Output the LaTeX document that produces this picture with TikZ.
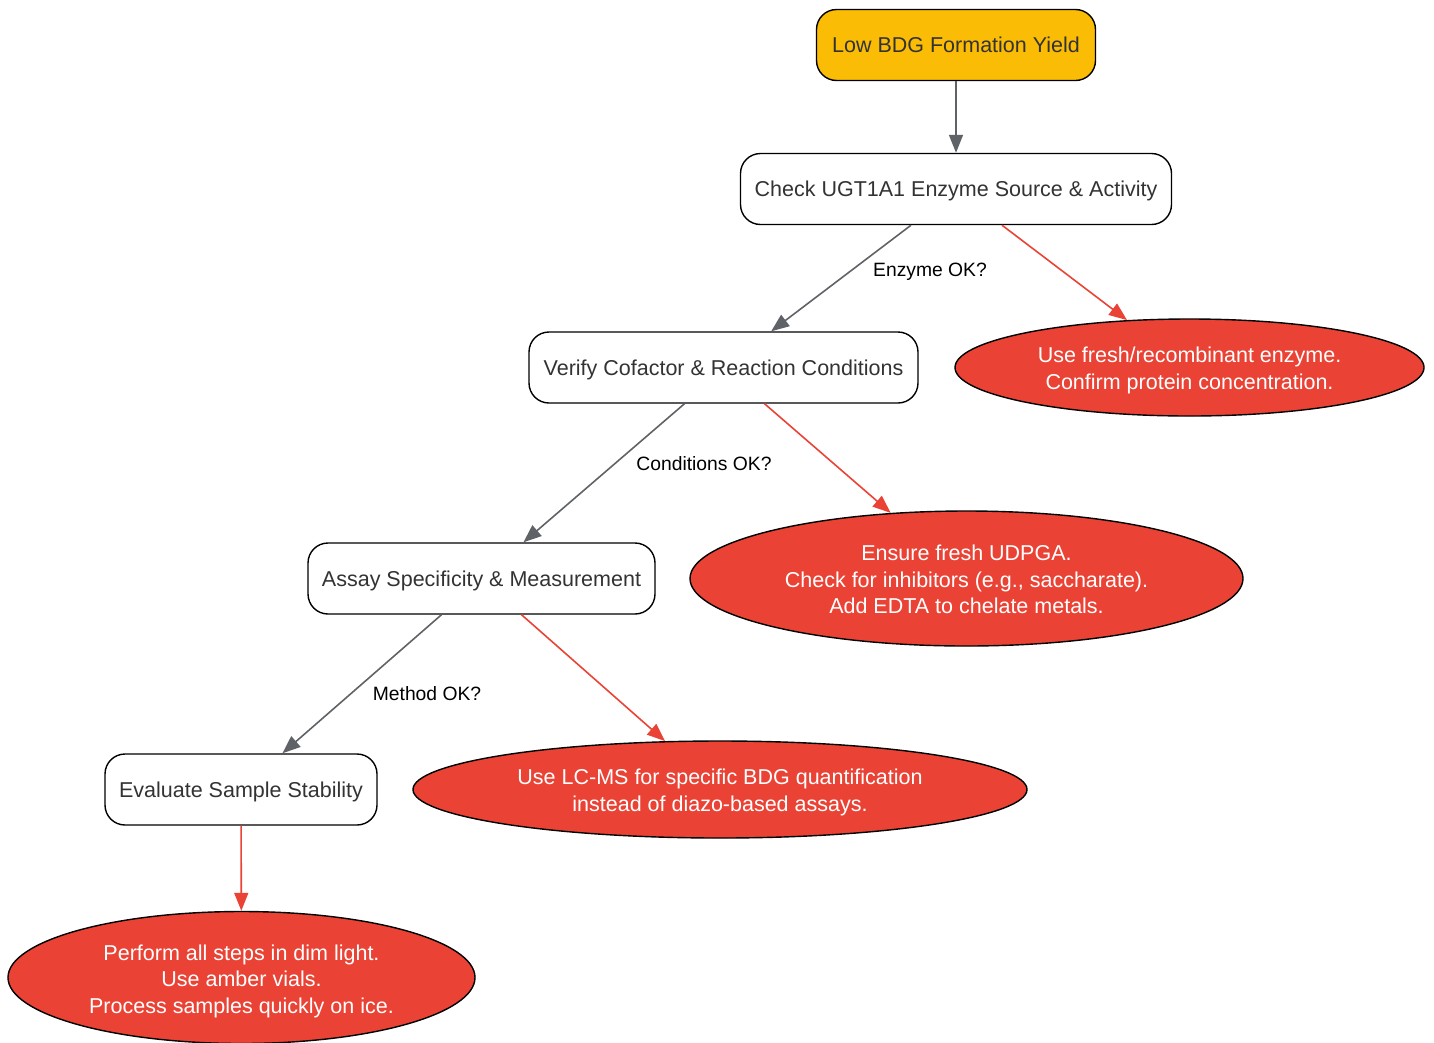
\documentclass[tikz,border=0pt]{standalone}
\usepackage{fontspec}
\setmainfont{Liberation Sans}
\usetikzlibrary{arrows.meta,shapes.geometric}
\definecolor{gyellow}{HTML}{FBBC05}
\definecolor{gred}{HTML}{EA4335}
\definecolor{ggray}{HTML}{5F6368}
\definecolor{gtext}{HTML}{333333}
\newcommand{\mylift}[1]{\rule{0pt}{#1}}
\tikzset{
  box/.style={draw=black, line width=1.4pt, rounded corners=20pt, fill=white, inner sep=0pt,
    minimum height=71pt, text=gtext, text height=20.5pt, text depth=5pt,
    font=\fontsize{21.5}{26}\selectfont},
  oval/.style={draw=black, line width=1.4pt, ellipse, fill=gred, inner sep=0pt, text=white,
    align=center, font=\fontsize{21.5}{26.5}\selectfont},
  lbl/.style={font=\fontsize{19.3}{22}\selectfont, text=black},
  garrow/.style={draw=ggray, line width=1.6pt, -{Triangle[length=18pt,width=14pt]}},
  rarrow/.style={draw=gred, line width=1.6pt, -{Triangle[length=18pt,width=14pt]}},
}
\begin{document}
\begin{tikzpicture}[x=1pt,y=-1pt]
\useasboundingbox (0,0) rectangle (1434,1042);
\node[box, fill=gyellow, minimum width=279pt] (top) at (956,45) {Low BDG Formation Yield};
\node[box, minimum width=431pt] (check) at (956,189) {Check UGT1A1 Enzyme Source \& Activity};
\node[box, minimum width=389pt] (verify) at (723.5,367.5) {Verify Cofactor \& Reaction Conditions};
\node[box, minimum width=347pt] (assay) at (481.5,578.5) {Assay Specificity \& Measurement};
\node[box, minimum width=272pt] (eval) at (241,789.5) {Evaluate Sample Stability};
\node[oval, minimum width=469pt, minimum height=97pt] (e1) at (1189.5,367.5) {\mylift{21.5pt}Use fresh/recombinant enzyme.\\Confirm protein concentration.};
\node[oval, minimum width=553pt, minimum height=135pt] (e2) at (966.5,578.5) {\mylift{17.5pt}Ensure fresh UDPGA.\\Check for inhibitors (e.g., saccharate).\\Add EDTA to chelate metals.};
\node[oval, minimum width=614pt, minimum height=97pt] (e3) at (720,789.5) {\mylift{21pt}Use LC-MS for specific BDG quantification\\instead of diazo-based assays.};
\node[oval, minimum width=467pt, minimum height=132pt] (e4) at (241.5,977.5) {\mylift{23pt}Perform all steps in dim light.\\Use amber vials.\\Process samples quickly on ice.};

\draw[garrow] (top) -- (check);
\draw[garrow] ([xshift=-45pt]check.south) -- (verify);
\draw[rarrow] ([xshift=46pt]check.south) -- (e1);
\draw[garrow] ([xshift=-39pt]verify.south) -- (assay);
\draw[rarrow] ([xshift=41pt]verify.south) -- (e2);
\draw[garrow] ([xshift=-40pt]assay.south) -- (eval);
\draw[rarrow] ([xshift=40pt]assay.south) -- (e3);
\draw[rarrow] (eval) -- (e4);

\node[lbl] (l1) at (930,272) {Enzyme OK?};
\node[lbl] (l2) at (704,464) {Conditions OK?};
\node[lbl] (l3) at (427,694) {Method OK?};
\end{tikzpicture}
\end{document}
